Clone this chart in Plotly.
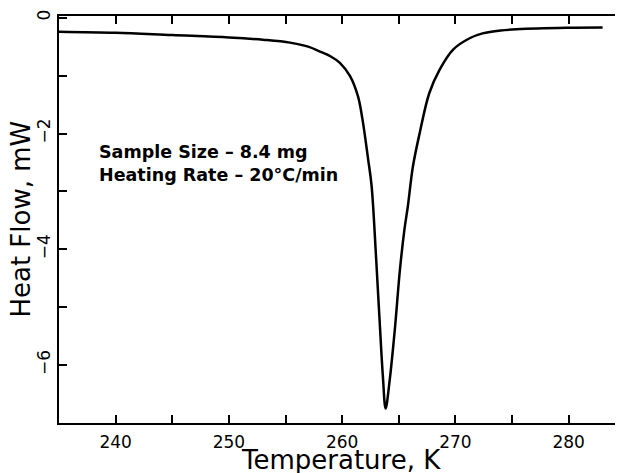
import plotly.graph_objects as go

temperature_K = [235, 240, 245, 250, 253, 255.4, 257, 258, 259, 259.8, 260.7, 261.4, 261.8,
                 262.3, 262.6, 263.0, 263.3, 263.6, 263.84, 264.2, 264.65, 265.1, 265.5,
                 265.8, 266.25, 266.85, 267.7, 268.6, 269.8, 271.3, 272.4, 274, 275.4, 279.8, 283]
heat_flow_mW = [-0.24, -0.26, -0.30, -0.34, -0.38, -0.43, -0.50, -0.58, -0.67, -0.78, -1.01, -1.36, -1.76,
                -2.45, -2.90, -4.15, -5.20, -6.20, -6.75, -6.26, -5.39, -4.36, -3.66,
                -3.26, -2.57, -1.99, -1.30, -0.90, -0.55, -0.35, -0.27, -0.22, -0.20, -0.175, -0.17]

annotation_lines = ["Sample Size – 8.4 mg", "Heating Rate – 20°C/min"]
x_title = "Temperature, K"
y_title = "Heat Flow, mW"

fig = go.Figure()
fig.add_trace(go.Scatter(x=temperature_K, y=heat_flow_mW, mode="lines",
                         line=dict(color="black", width=2.5, shape="spline", smoothing=1.0),
                         showlegend=False, hoverinfo="skip"))

axis_font = dict(family="DejaVu Sans", size=17, color="black")
title_font = dict(family="DejaVu Sans", size=26, color="black")

common = dict(ticks="inside", ticklen=8, tickwidth=1.5, tickcolor="black",
              showline=True, linecolor="black", linewidth=2, mirror="ticks",
              showgrid=False, zeroline=False, tickfont=axis_font, automargin=False)

fig.update_xaxes(range=[235, 284.8], tick0=240, dtick=10,
                 minor=dict(dtick=5, tick0=235, ticks="inside", ticklen=8, tickwidth=1.5, tickcolor="black"),
                 ticklabelstandoff=3, **common)
fig.update_yaxes(range=[-7, 0.03], tick0=0, dtick=2,
                 minor=dict(dtick=1, tick0=0, ticks="inside", ticklen=8, tickwidth=1.5, tickcolor="black"),
                 tickangle=-90, tickformat="d", ticklabelstandoff=0, **common)

fig.add_annotation(x=0.5, y=-0.092, xref="paper", yref="paper", xanchor="center", yanchor="middle",
                   text=x_title, showarrow=False, font=title_font)
fig.add_annotation(x=-0.069, y=0.5, xref="paper", yref="paper", xanchor="center", yanchor="middle",
                   text=y_title, textangle=-90, showarrow=False, font=title_font)

fig.add_annotation(x=0.069, y=0.637, xref="paper", yref="paper", xanchor="left", yanchor="middle",
                   text="<b>" + "<br>".join(annotation_lines) + "</b>", align="left", showarrow=False,
                   borderpad=0, font=dict(family="DejaVu Sans", size=17.5, color="black"))

# page body has an 8px default margin; size the figure so it fits the 623x473 window
fig.update_layout(width=615, height=465, margin=dict(l=51, r=0, t=8, b=50),
                  plot_bgcolor="white", paper_bgcolor="white")

fig.write_html("out.html")
